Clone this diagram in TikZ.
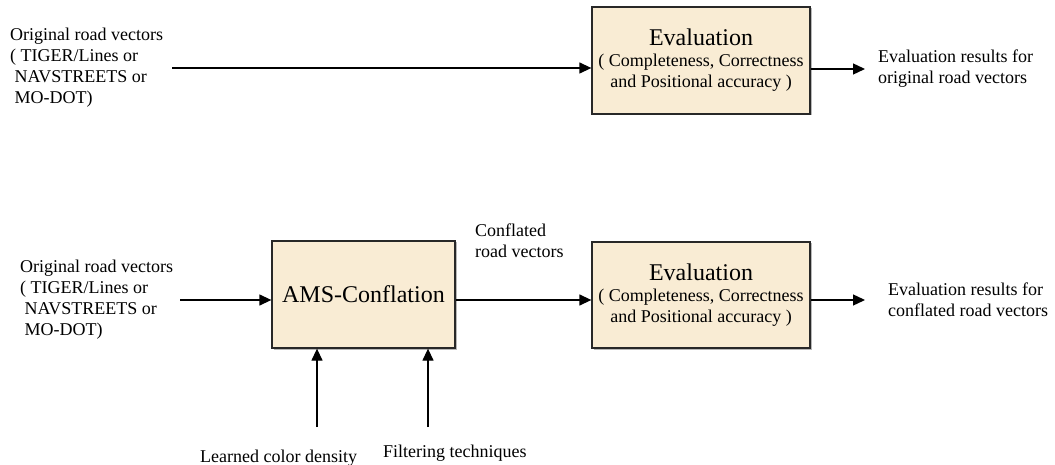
\documentclass[tikz,border=0pt]{standalone}
\usepackage{fontspec}
\setmainfont{Liberation Serif}
\usetikzlibrary{arrows.meta,shadows}
\definecolor{boxfill}{RGB}{249,236,212}
\definecolor{boxline}{RGB}{40,40,40}
\tikzset{
  lbl/.style={inner sep=0pt, align=left, font=\fontsize{18}{21}\selectfont},
  procbox/.style={draw=boxline, line width=1.3pt, fill=boxfill, inner sep=0pt, align=center,
    font=\fontsize{18}{21}\selectfont,
    drop shadow={shadow xshift=1.5pt, shadow yshift=-1.5pt, fill=black!35, opacity=0.8}},
  arr/.style={line width=1.3pt, -{Triangle[length=12pt,width=11pt]}},
}
\begin{document}
\begin{tikzpicture}[x=1pt,y=-1pt]
\useasboundingbox (0,0) rectangle (1055,465);

% top row
\node[lbl, anchor=west] (src1) at (10,68) {Original road vectors\\( TIGER/Lines or\\\ NAVSTREETS or\\\ MO-DOT)};
\node[procbox, minimum width=218pt, minimum height=107pt] (eval1) at (701,60.5)
  {{\fontsize{24}{28}\selectfont Evaluation}\\( Completeness, Correctness\\and Positional accuracy )};
\node[lbl, anchor=west] (res1) at (878,69) {Evaluation results for\\original road vectors};
\draw[arr] ([xshift=9pt]src1.east) -- (src1.east -| eval1.west);
\draw[arr] (res1.west -| eval1.east) -- ([xshift=-13pt]res1.west);

% bottom row
\node[lbl, anchor=west] (src2) at (20,300) {Original road vectors\\( TIGER/Lines or\\\ NAVSTREETS or\\\ MO-DOT)};
\node[procbox, minimum width=183pt, minimum height=107pt, font=\fontsize{24}{28}\selectfont] (ams) at (363.5,294.5) {AMS-Conflation};
\node[procbox, minimum width=218pt, minimum height=106pt] (eval2) at (701,295)
  {{\fontsize{24}{28}\selectfont Evaluation}\\( Completeness, Correctness\\and Positional accuracy )};
\node[lbl, anchor=west] (conf) at (475,241) {Conflated\\road vectors};
\node[lbl, anchor=west] (res2) at (888,300) {Evaluation results for\\conflated road vectors};
\draw[arr] ([xshift=7pt]src2.east) -- (src2.east -| ams.west);
\draw[arr] (src2.east -| ams.east) -- (src2.east -| eval2.west);
\draw[arr] (res2.west -| eval2.east) -- ([xshift=-23pt]res2.west);

% inputs from below
\node[lbl, anchor=base west] (learn) at (200,462) {Learned color density};
\node[lbl, anchor=base west] (filt) at (383,457) {Filtering techniques};
\coordinate (l1) at (317,427);
\coordinate (f1) at (428,427);
\draw[arr] (l1) -- (l1 |- ams.south);
\draw[arr] (f1) -- (f1 |- ams.south);
\end{tikzpicture}
\end{document}
